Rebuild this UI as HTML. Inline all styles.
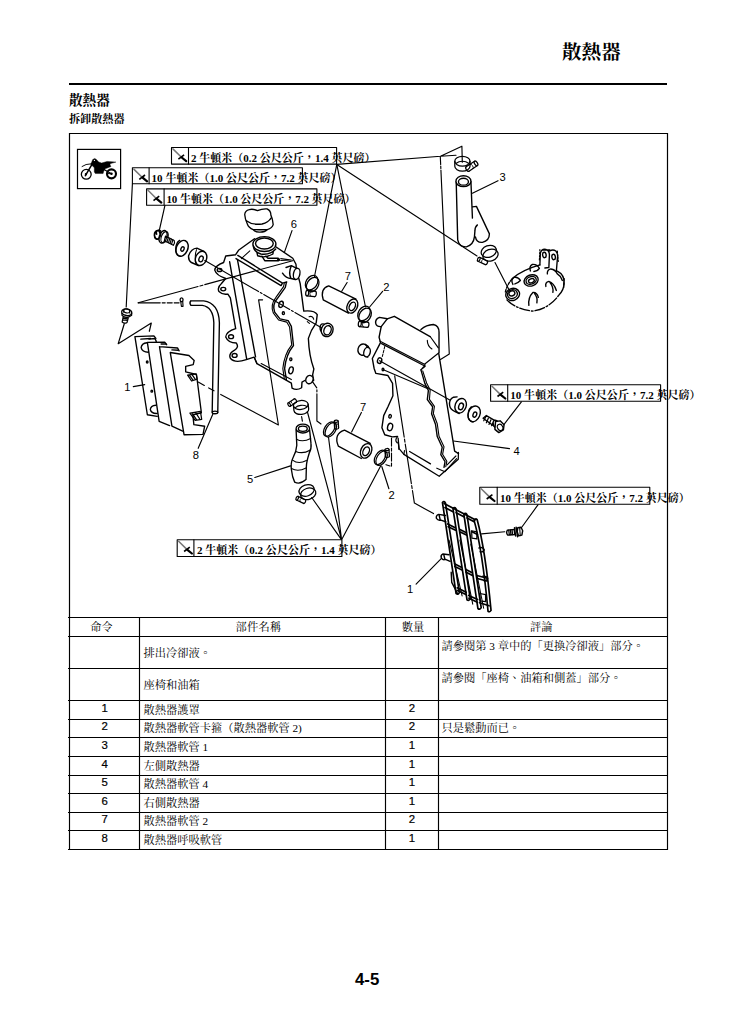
<!DOCTYPE html>
<html lang="zh-Hant">
<head>
<meta charset="utf-8">
<title>散熱器</title>
<style>
html,body{margin:0;padding:0;background:#fff;}
body{width:733px;height:1030px;position:relative;overflow:hidden;color:#000;
 font-family:"Liberation Serif","Noto Serif CJK SC",serif;}
.abs{position:absolute;white-space:nowrap;}
.hd{font-weight:700;font-size:19.6px;line-height:24px;left:562px;top:40.7px;}
.rule{left:69px;top:83px;width:598px;height:2px;background:#000;}
.h1{font-weight:700;font-size:13.6px;line-height:16px;left:69px;top:93.2px;}
.h2{font-weight:700;font-size:11.1px;line-height:14px;left:69px;top:112px;}
.pg{font-family:"Liberation Sans",sans-serif;font-weight:700;font-size:16.8px;line-height:18px;left:355px;top:971px;}
table{position:absolute;left:69.6px;top:617.35px;border-collapse:collapse;border-spacing:0;table-layout:fixed;width:597.9px;}
td{border:0;padding:0;box-sizing:border-box;font-size:11.25px;line-height:14px;vertical-align:top;overflow:hidden;white-space:nowrap;}
td.c{text-align:center;padding-top:2.6px;}
tr.r td{padding-top:2.4px;}
tr.r{height:18.6px;}
td.n{font-family:"Liberation Sans",sans-serif;font-size:11.4px;line-height:12px;text-align:center;-webkit-text-stroke:0.2px #000;}
tr.r td.n{padding-top:1.4px;}
td.l{padding-left:3.8px;}
td.k{padding-left:3px;padding-top:2.8px;}
svg{position:absolute;left:0;top:0;}
svg text{font-family:"Liberation Sans",sans-serif;font-size:11.2px;fill:#000;}
svg text.t{font-family:"Liberation Serif","Noto Serif CJK SC",serif;font-weight:700;font-size:11px;}
</style>
</head>
<body>
<div class="abs hd">散熱器</div>
<div class="abs rule"></div>
<div class="abs h1">散熱器</div>
<div class="abs h2">拆卸散熱器</div>

<table>
<colgroup><col style="width:70px"><col style="width:245.9px"><col style="width:53px"><col style="width:229px"></colgroup>
<tr style="height:19.05px"><td class="c" style="padding-right:6px">命令</td><td class="c" style="padding-right:8px;letter-spacing:0.3px">部件名稱</td><td class="c" style="padding-left:1.8px">數量</td><td class="c" style="padding-right:23.6px">評論</td></tr>
<tr style="height:32.05px"><td></td><td class="l" style="padding-top:9.6px">排出冷卻液。</td><td></td><td class="k">請參閱第 3 章中的「更換冷卻液」部分。</td></tr>
<tr style="height:32px"><td></td><td class="l" style="padding-top:9.8px">座椅和油箱</td><td></td><td class="k" style="padding-top:2.4px">請參閱「座椅、油箱和側蓋」部分。</td></tr>
<tr class="r"><td class="n">1</td><td class="l">散熱器護罩</td><td class="n">2</td><td class="l"></td></tr>
<tr class="r"><td class="n">2</td><td class="l">散熱器軟管卡箍（散熱器軟管 2)</td><td class="n">2</td><td class="l" style="padding-left:3px">只是鬆動而已。</td></tr>
<tr class="r"><td class="n">3</td><td class="l">散熱器軟管 1</td><td class="n">1</td><td class="l"></td></tr>
<tr class="r"><td class="n">4</td><td class="l">左側散熱器</td><td class="n">1</td><td class="l"></td></tr>
<tr class="r"><td class="n">5</td><td class="l">散熱器軟管 4</td><td class="n">1</td><td class="l"></td></tr>
<tr class="r"><td class="n">6</td><td class="l">右側散熱器</td><td class="n">1</td><td class="l"></td></tr>
<tr class="r"><td class="n">7</td><td class="l">散熱器軟管 2</td><td class="n">2</td><td class="l"></td></tr>
<tr class="r"><td class="n">8</td><td class="l">散熱器呼吸軟管</td><td class="n">1</td><td class="l"></td></tr>
</table>

<svg width="733" height="1030" viewBox="0 0 733 1030" fill="none" stroke="#000" stroke-width="1" stroke-linecap="round" stroke-linejoin="round">
<!-- frame -->
<path d="M69.5 617.5 V133.5 H667.5 V617.5" stroke-width="1.2" stroke-linejoin="miter" stroke-linecap="butt"/>
<!-- table grid -->
<g stroke-width="1.15" stroke-linecap="butt">
<path d="M68 617.5 H668 M68 636.5 H668 M68 668.5 H668 M68 700.5 H668 M68 719.5 H668 M68 737.5 H668 M68 756.5 H668 M68 775.5 H668 M68 793.5 H668 M68 812.5 H668 M68 830.5 H668 M68 849.5 H668"/>
<path d="M69.5 617.5 V850 M139.5 617.5 V850 M385.5 617.5 V850 M438.5 617.5 V850 M667.5 617.5 V850"/>
</g>
<!-- motorcycle icon -->
<rect x="77.5" y="149.4" width="43.1" height="39.2" stroke-width="1.2" stroke-linejoin="miter"/>
<g transform="translate(75,146) scale(0.06821)" stroke-width="14">
<circle cx="165" cy="415" r="72" stroke-width="19"/>
<circle cx="535" cy="408" r="66" stroke-width="31"/>
<circle cx="535" cy="408" r="18" fill="#000" stroke="none"/>
<path d="M535 408 L462 404" stroke-width="16"/>
<path d="M232 268 L260 198 L290 182 L314 198 L347 234 L390 250 L470 226 L600 236 L522 258 L512 275 L528 300 L472 324 L442 334 L422 366 L412 404 L298 404 L283 380 L283 320 L248 284 Z" fill="#000" stroke="#000" stroke-width="6"/>
<circle cx="285" cy="212" r="9" fill="#fff" stroke="none"/>
<path d="M258 255 L152 436" stroke-width="22"/>
<path d="M103 300 Q150 262 245 260" stroke-width="14"/>
<path d="M425 345 L535 408" stroke-width="18"/>
<circle cx="160" cy="414" r="17" fill="#000" stroke="none"/>
</g>
<!-- top-left bolt / washer / collar -->
<g transform="translate(148,218) scale(0.10914)" stroke-width="12.00">
<path d="M60 165 Q52 135 75 118 Q100 105 118 120 M60 165 Q66 190 92 196 M75 118 L80 150 M100 112 L108 140" />
<ellipse cx="88" cy="155" rx="27" ry="40" transform="rotate(18 88 155)" stroke-width="13.20"/>
<ellipse cx="138" cy="172" rx="34" ry="60" transform="rotate(20 138 172)" stroke-width="13.20"/>
<ellipse cx="152" cy="176" rx="30" ry="54" transform="rotate(20 152 176)" stroke-width="10.80"/>
<path d="M160 166 L240 206 Q250 228 232 250 L150 208 Z" fill="#fff" stroke-width="10.80"/>
<path d="M172 172 L160 212 M186 179 L174 219 M200 186 L188 226 M214 193 L202 233 M228 200 L216 240" stroke-width="10.80"/>
<ellipse cx="312" cy="278" rx="52" ry="76" transform="rotate(24 312 278)" stroke-width="13.20"/>
<path d="M290 205 Q250 230 255 300 Q262 345 300 352" stroke-width="12.00"/>
<ellipse cx="316" cy="284" rx="14" ry="21" transform="rotate(24 316 284)" stroke-width="12.00"/>
<ellipse cx="486" cy="370" rx="50" ry="68" transform="rotate(22 486 370)" stroke-width="13.20"/>
<path d="M512 306 L448 276 Q395 280 372 345 Q368 390 398 408 L462 436" stroke-width="13.20"/>
<ellipse cx="486" cy="375" rx="19" ry="27" transform="rotate(22 486 375)" stroke-width="12.00"/>
<path d="M445 290 Q425 340 440 420" stroke-width="9.60"/>
</g>
<!-- right radiator (6) -->
<g transform="translate(208,232) scale(0.17735)" stroke-width="7.82">
<!-- outer contour -->
<path d="M262 38 L172 103 L156 128 L100 135 L88 172 Q40 190 38 215 Q48 246 100 262 L76 290 Q50 312 62 336 Q82 356 112 350 L126 372 L156 545 Q104 560 100 592 Q114 626 160 626 Q176 650 150 666 Q114 686 126 712 Q150 742 216 720 L260 706 L276 742 L470 852 L474 880 Q500 896 528 878 L530 846 L548 836 Q572 858 596 836 L590 806 L597 772 Q570 700 566 600 Q580 552 610 512 L616 466 Q600 440 540 446 L520 292 L512 262" />
<path d="M380 82 L478 148 L496 182 L498 205" />
<!-- fitting on tank right -->
<path d="M440 200 L470 190 M420 232 Q440 262 468 262 M470 190 Q452 230 468 262 M470 190 L500 205 M468 262 L492 268" />
<ellipse cx="500" cy="236" rx="18" ry="32" transform="rotate(12 500 236)" fill="#fff"/>
<!-- filler neck -->
<path d="M256 78 Q256 112 298 124 Q350 132 382 96 M276 116 L280 134 Q322 150 366 124 L368 110"/>
<ellipse cx="318" cy="68" rx="65" ry="42" fill="#fff"/>
<ellipse cx="318" cy="65" rx="50" ry="31"/>
<path d="M304 136 L320 162 L396 162 M326 136 L338 148 L396 148" />
<circle cx="398" cy="156" r="9" fill="#000" stroke="none"/>
<path d="M410 160 L470 158 L410 150" stroke-width="5.75"/>
<!-- tank top edges -->
<path d="M168 132 L420 288 M158 150 L412 302 L420 288 L444 282" />
<path d="M188 150 L236 106" stroke-width="5.75"/>
<!-- body vertical lines -->
<path d="M122 168 L218 716 M166 156 L268 704" />
<path d="M276 742 L262 708 M300 742 L470 832" stroke-width="6.32"/>
<!-- ear holes -->
<ellipse cx="65" cy="214" rx="13" ry="9"/>
<ellipse cx="86" cy="322" rx="14" ry="10"/>
<ellipse cx="130" cy="590" rx="14" ry="11"/>
<ellipse cx="150" cy="696" rx="14" ry="11"/>
<!-- right bracket wavy -->
<path d="M442 284 L436 312 L392 374 Q360 410 376 452 L406 490 L452 500 L470 532 L482 640 Q440 690 432 770 L442 832" />
<path d="M430 290 L426 308 L382 370 Q350 412 368 456 L398 496 L444 508 L460 536 L472 636 Q430 688 422 770 L430 826" stroke-width="6.32"/>
<ellipse cx="412" cy="408" rx="12" ry="18" transform="rotate(15 412 408)"/>
<ellipse cx="425" cy="458" rx="6" ry="8"/>
<ellipse cx="467" cy="718" rx="6" ry="8"/>
<ellipse cx="468" cy="780" rx="12" ry="20" transform="rotate(15 468 780)"/>
<path d="M570 478 Q590 470 596 492 M560 505 L572 515" stroke-width="6.32"/>
<!-- bottom outlets -->
<ellipse cx="572" cy="832" rx="20" ry="24" transform="rotate(20 572 832)" fill="#fff"/>
<!-- grommet -->
<ellipse cx="648" cy="540" rx="16" ry="22"/>
<ellipse cx="672" cy="552" rx="33" ry="38" transform="rotate(20 672 552)" fill="#fff"/>
<ellipse cx="674" cy="554" rx="20" ry="27" transform="rotate(20 674 554)"/>
</g>
<!-- left radiator (4) -->
<g transform="translate(350,300) scale(0.17735)" stroke-width="7.82">
<path d="M210 106 L166 98 Q138 110 146 136 Q152 152 176 150"/>
<path d="M176 150 L210 106 L250 92 L452 206 M400 166 Q430 140 470 138 Q502 144 502 182 L502 296"/>
<path d="M176 150 L164 210 L172 240 L126 330 L136 386 L146 414 L214 426 L240 470 L242 540 L214 602 L190 652 L180 720 L196 760 L238 772 L268 770"/>
<path d="M170 232 L420 362 L498 300 M178 246 L424 374 L400 394 L424 366" stroke-width="6.44"/>
<path d="M452 206 L498 270 M436 228 Q436 258 462 276" stroke-width="6.44"/>
<path d="M196 262 L182 320" stroke-width="5.75" stroke-dasharray="14 8"/>
<ellipse cx="167" cy="342" rx="12" ry="16" transform="rotate(15 167 342)"/>
<ellipse cx="186" cy="392" rx="5" ry="7"/>
<ellipse cx="226" cy="656" rx="7" ry="10" transform="rotate(15 226 656)"/>
<ellipse cx="226" cy="716" rx="14" ry="21" transform="rotate(15 226 716)"/>

<path d="M400 394 L422 470 L442 510 L436 562 L466 602 L460 642 L482 700 L492 770 L520 830 L512 872 L536 912 L530 944"/>
<path d="M410 400 L432 468 L452 508 L448 560 L476 600 L470 640 L492 698 L502 768 L530 828 L522 870 L546 910 L540 940" stroke-width="6.21"/>
<path d="M500 300 L590 852 L612 866"/>
<path d="M268 770 Q250 790 266 806 M272 800 L276 842 M336 854 L454 924" stroke-width="6.67"/>
<!-- left grommet -->
<ellipse cx="72" cy="280" rx="27" ry="32" transform="rotate(15 72 280)"/>
<path d="M78 312 L100 322 M86 250 L104 262" />
<ellipse cx="96" cy="294" rx="18" ry="27" transform="rotate(15 96 294)" fill="#fff"/>
<!-- collar -->
<path d="M604 546 L584 548 Q556 562 562 596 Q566 618 590 628 L616 640"/>
<ellipse cx="624" cy="596" rx="31" ry="42" transform="rotate(20 624 596)" fill="#fff"/>
<ellipse cx="626" cy="600" rx="13" ry="19" transform="rotate(20 626 600)"/>
<!-- washer -->
<ellipse cx="700" cy="642" rx="33" ry="46" transform="rotate(22 700 642)"/>
<path d="M684 602 Q660 625 668 665 Q676 685 694 688" stroke-width="6.90"/>
<ellipse cx="704" cy="646" rx="10" ry="15" transform="rotate(22 704 646)"/>
</g>
<g stroke-width="1.26">
<path d="M398.1 438.1 L399.1 448.6 L403.9 454.4 L439.2 476.3 L458.3 459.2 L458.4 452.4"/>
<path d="M436.8 468.2 L445 471.7 L456.6 458.7 M447.1 464.8 L455.9 456" stroke-width="1.15"/>
<path d="M403.9 454.4 L404.5 450.5" stroke-width="1.15"/>
</g>
<!-- hose clamps -->
<g stroke-width="1.25"><g transform="rotate(0 462.4 161.3)"><ellipse cx="462.4" cy="161.3" rx="7.6" ry="4.9"/><path d="M454.79999999999995 161.3 v4.9 a7.6 4.9 0 0 0 15.2 0 v-4.9"/><path d="M456.32 163.26 A7.6 4.9 0 0 1 468.48 163.26" stroke-width="1.10"/></g><g transform="translate(467.6 169.0) rotate(-33.7)"><path d="M0 -2.6 H10.10 M0 2.6 H10.10" /><ellipse cx="10.10" cy="0" rx="1.43" ry="2.6" fill="#fff"/><path d="M0 -2.6 A1.43 2.6 0 0 0 0 2.6"/><path d="M4.54 -2.6 A1.43 2.6 0 0 1 4.54 2.6" stroke-width="0.80"/></g></g>
<g stroke-width="1.25"><ellipse cx="488.8" cy="251.4" rx="7.8" ry="5.8" transform="rotate(-20 488.8 251.4)"/><ellipse cx="490.5" cy="255.15" rx="7.8" ry="5.8" transform="rotate(-20 490.5 255.15)"/><g transform="translate(486.2 262.7) rotate(-155.3)"><path d="M0 -2.1 H8.14 M0 2.1 H8.14" /><ellipse cx="8.14" cy="0" rx="1.16" ry="2.1" fill="#fff"/><path d="M0 -2.1 A1.16 2.1 0 0 0 0 2.1"/><path d="M3.66 -2.1 A1.16 2.1 0 0 1 3.66 2.1" stroke-width="0.80"/></g></g>
<g stroke-width="1.25"><ellipse cx="311.6" cy="282.6" rx="5.6" ry="7.8" transform="rotate(32 311.6 282.6)"/><ellipse cx="312.70000000000005" cy="284.6" rx="5.6" ry="7.8" transform="rotate(32 312.70000000000005 284.6)"/><g transform="translate(314.8 293.9) rotate(-174.0)"><path d="M0 -2.7 H7.64 M0 2.7 H7.64" /><ellipse cx="7.64" cy="0" rx="1.49" ry="2.7" fill="#fff"/><path d="M0 -2.7 A1.49 2.7 0 0 0 0 2.7"/><path d="M3.44 -2.7 A1.49 2.7 0 0 1 3.44 2.7" stroke-width="0.80"/></g></g>
<g stroke-width="1.25"><ellipse cx="364.0" cy="313.4" rx="5.6" ry="7.8" transform="rotate(32 364.0 313.4)"/><ellipse cx="365.1" cy="315.4" rx="5.6" ry="7.8" transform="rotate(32 365.1 315.4)"/><g transform="translate(367.4 324.7) rotate(-174.0)"><path d="M0 -2.7 H7.64 M0 2.7 H7.64" /><ellipse cx="7.64" cy="0" rx="1.49" ry="2.7" fill="#fff"/><path d="M0 -2.7 A1.49 2.7 0 0 0 0 2.7"/><path d="M3.44 -2.7 A1.49 2.7 0 0 1 3.44 2.7" stroke-width="0.80"/></g></g>
<g stroke-width="1.25"><g transform="rotate(-6 300.8 405.0)"><ellipse cx="300.8" cy="405.0" rx="7.4" ry="4.5"/><path d="M293.40000000000003 405.0 v4.9 a7.4 4.5 0 0 0 14.8 0 v-4.9"/><path d="M294.88 407.20 A7.4 4.5 0 0 1 306.72 407.20" stroke-width="1.10"/></g><g transform="translate(295.2 400.6) rotate(146.3)"><path d="M0 -2.0 H7.21 M0 2.0 H7.21" /><ellipse cx="7.21" cy="0" rx="1.10" ry="2.0" fill="#fff"/><path d="M0 -2.0 A1.10 2.0 0 0 0 0 2.0"/><path d="M3.24 -2.0 A1.10 2.0 0 0 1 3.24 2.0" stroke-width="0.80"/></g></g>
<g stroke-width="1.25"><ellipse cx="329.2" cy="429.0" rx="4.6" ry="8.0" transform="rotate(32 329.2 429.0)"/><ellipse cx="330.8" cy="429.8" rx="4.6" ry="8.0" transform="rotate(32 330.8 429.8)"/><g transform="translate(336.6 428.0) rotate(-93.4)"><path d="M0 -2.0 H6.81 M0 2.0 H6.81" /><ellipse cx="6.81" cy="0" rx="1.10" ry="2.0" fill="#fff"/><path d="M0 -2.0 A1.10 2.0 0 0 0 0 2.0"/><path d="M3.07 -2.0 A1.10 2.0 0 0 1 3.07 2.0" stroke-width="0.80"/></g></g>
<g stroke-width="1.25"><ellipse cx="380.0" cy="457.4" rx="4.6" ry="8.0" transform="rotate(32 380.0 457.4)"/><ellipse cx="381.6" cy="458.2" rx="4.6" ry="8.0" transform="rotate(32 381.6 458.2)"/><g transform="translate(387.4 456.4) rotate(-93.4)"><path d="M0 -2.0 H6.81 M0 2.0 H6.81" /><ellipse cx="6.81" cy="0" rx="1.10" ry="2.0" fill="#fff"/><path d="M0 -2.0 A1.10 2.0 0 0 0 0 2.0"/><path d="M3.07 -2.0 A1.10 2.0 0 0 1 3.07 2.0" stroke-width="0.80"/></g></g>
<g stroke-width="1.25"><ellipse cx="306.6" cy="490.4" rx="7.8" ry="5.6" transform="rotate(-18 306.6 490.4)"/><ellipse cx="308.20000000000005" cy="493.79999999999995" rx="7.8" ry="5.6" transform="rotate(-18 308.20000000000005 493.79999999999995)"/><g transform="translate(304.4 501.6) rotate(-154.7)"><path d="M0 -2.0 H7.96 M0 2.0 H7.96" /><ellipse cx="7.96" cy="0" rx="1.10" ry="2.0" fill="#fff"/><path d="M0 -2.0 A1.10 2.0 0 0 0 0 2.0"/><path d="M3.58 -2.0 A1.10 2.0 0 0 1 3.58 2.0" stroke-width="0.80"/></g></g>
<!-- pipes 7 -->
<g transform="translate(298,262) scale(0.13643)" stroke-width="9.89">
<path d="M225 175 L425 272 M185 277 L370 375 M225 175 Q160 195 185 277"/>
<ellipse cx="398" cy="323" rx="37" ry="54" transform="rotate(25 398 323)" fill="#fff"/>
<ellipse cx="398" cy="325" rx="21" ry="33" transform="rotate(25 398 325)"/>
</g>
<g transform="translate(278,392) scale(0.17735)" stroke-width="7.59">
<path d="M375 215 L520 290 M340 305 L470 375 M375 215 Q312 235 340 305"/>
<ellipse cx="497" cy="332" rx="30" ry="43" transform="rotate(25 497 332)" fill="#fff"/>
<ellipse cx="497" cy="334" rx="17" ry="26" transform="rotate(25 497 334)"/>
<!-- hose 5 -->
<path d="M102 212 L106 300 Q104 335 84 372 Q70 400 76 440 Q80 480 94 508 Q124 524 158 494 L160 420 Q160 395 176 345 Q190 320 186 290 L178 212" fill="#fff"/>
<ellipse cx="140" cy="206" rx="38" ry="25" fill="#fff"/>
<ellipse cx="140" cy="207" rx="25" ry="15"/>
<path d="M104 266 Q140 286 184 262 M100 335 Q140 352 180 328 M82 384 Q116 410 160 386 M76 432 Q114 452 158 428" stroke-width="6.44"/>
</g>
<!-- left guard (1), hose 8, bolt -->
<g transform="translate(112,290) scale(0.16371)" stroke-width="8.28">
<!-- bolt -->
<ellipse cx="90" cy="136" rx="31" ry="20" transform="rotate(10 90 136)"/>
<path d="M60 142 L62 156 Q88 178 120 154 L120 140 M68 164 L62 196 Q76 208 92 198 L100 168 M66 182 L94 186 M68 172 L96 176" stroke-width="7.47"/>
<ellipse cx="90" cy="128" rx="19" ry="12" transform="rotate(10 90 128)" stroke-width="6.90"/><path d="M72 126 L72 136 M108 130 L108 140" stroke-width="6.90"/>
<!-- V indicator -->
<path d="M75 206 L38 328 L240 202 L228 252" stroke-width="7.47"/>
<!-- small clip -->
<ellipse cx="425" cy="60" rx="9" ry="12"/>
<path d="M420 72 L424 100 L434 100 L432 70" stroke-width="6.90"/>
<!-- hose 8 -->
<path d="M482 66 L560 66 Q652 78 656 200 L646 748 M482 94 L552 94 Q618 104 622 200 L612 746 M482 66 Q470 80 482 94"/>
<ellipse cx="629" cy="748" rx="17" ry="8"/>
<!-- guard back plate -->
<path d="M140 285 L256 280 L268 296 M140 285 L216 762 L276 772 M176 300 L236 296"/>
<!-- slat 1 -->
<path d="M216 320 L322 318 L334 334 M216 320 L288 802 L352 828 M226 300 L262 296 L270 312"/>
<!-- slat 2 -->
<path d="M290 346 L400 354 L410 372 M290 346 L366 832 L432 862 M300 330 L330 330"/>
<!-- slat 3 -->
<path d="M356 382 L470 400 M356 382 L440 884 L556 882 L566 832 L500 822 L494 762 L546 750 L516 516 L450 500 L450 466 L496 456 L502 430 L470 400 M366 366 L404 368"/>
<!-- clips -->
<path d="M462 520 L514 512 L520 545 L486 556 Z M476 752 L540 742 L548 790 L508 796 Z M474 522 L496 552 M490 518 L510 548 M490 754 L516 792 M510 748 L536 788" stroke-width="7.47"/>

<!-- holes -->
<path d="M214 322 Q180 326 178 352 Q184 380 222 380" />
<path d="M268 704 Q236 706 234 730 Q240 756 276 754" />
<ellipse cx="215" cy="440" rx="5" ry="6"/>
<ellipse cx="243" cy="618" rx="5" ry="6"/>
</g>
<!-- right guard (1) + bolt -->
<g transform="translate(425,495) scale(0.13643)" stroke-width="12.35">
<!-- slats -->
<path d="M128 55 L228 722 M150 60 L252 716 M128 55 Q140 40 150 60 M228 722 Q242 735 252 716"/>
<path d="M205 100 L308 768 M227 100 L332 760 M205 100 Q216 84 227 100 M308 768 Q322 780 332 760"/>
<path d="M285 142 L388 832 M307 142 L412 826 M285 142 Q296 126 307 142 M388 832 Q402 844 412 826"/>
<path d="M360 186 Q420 400 462 852 M382 180 Q442 400 484 846 M360 186 Q370 168 382 180 M462 852 Q474 862 484 846"/>
<path d="M176 330 L272 740" stroke-width="7.80"/>
<path d="M256 330 L350 800 M336 360 L430 830" stroke-width="7.80"/>
<!-- top edge -->
<path d="M140 62 L368 182 M146 92 L205 122 M228 130 L285 160 M308 168 L360 196"/>
<!-- cross bars -->
<path d="M166 212 L222 240 M170 232 L224 258 M256 252 L300 275 M258 272 L304 294 M342 268 L384 290"/>
<path d="M216 504 L266 530 M218 524 L268 548 M300 546 L346 570 M302 566 L348 590 M380 590 L456 610 M384 612 L452 630"/>
<path d="M236 680 L302 712 M238 700 L300 730 M320 736 L386 766 M322 756 L384 786 M400 790 L470 812"/>
<!-- mounts -->
<path d="M150 150 L100 142 Q78 150 84 172 Q96 190 116 184 L152 196 M104 150 L112 184" stroke-width="10.40"/>
<path d="M176 438 L132 432 Q112 442 120 462 Q132 480 150 472 L184 486 M138 438 L146 472" stroke-width="10.40"/>
<path d="M192 566 L196 640 L240 726" stroke-width="10.40"/>
<path d="M396 388 Q426 378 434 402 Q430 420 404 416 M424 596 Q452 590 460 610 Q456 630 432 628" stroke-width="10.40"/>
<path d="M342 262 L380 270 L380 322 L344 316 Z M402 722 L444 730 L444 782 L404 776 Z" stroke-width="9.10"/>
<!-- bolt -->
<path d="M604 258 L654 252 L658 290 L606 294 Q592 278 604 258 Z" fill="#fff" stroke-width="10.40"/>
<path d="M614 258 L618 292 M626 256 L630 292 M638 255 L642 291" stroke-width="9.10"/>
<path d="M656 240 L664 300 M668 236 L678 306" stroke-width="10.40"/>
<path d="M680 240 L704 236 L716 262 L710 294 L686 300 L676 270 Z" fill="#fff" stroke-width="10.40"/>
<path d="M694 240 L698 298" stroke-width="7.80"/>
</g>
<!-- hose 3 -->
<g transform="translate(417,132) scale(0.24969)" stroke-width="5.52">
<path d="M157 198 L163 432 Q170 462 198 460 Q226 452 230 420 L232 396 Q232 380 242 372"/>
<path d="M216 198 L222 345 M222 300 L238 298 L290 408 Q290 436 262 442 Q238 444 234 420"/>
<ellipse cx="186" cy="197" rx="30" ry="22" fill="#fff"/>
<ellipse cx="186" cy="199" rx="20" ry="14"/>
</g>
<!-- cylinder head -->
<g transform="translate(440,225) scale(0.24969)" stroke-width="5.52">
<path d="M290 214 Q330 180 400 160 M470 185 Q500 200 497 235 Q495 262 478 278" />
<path d="M268 300 Q300 335 370 345 Q440 335 480 275" stroke-dasharray="40 8 6 8"/>
<path d="M262 268 Q268 240 290 214" stroke-dasharray="10 6"/>
<path d="M497 215 L495 250" stroke-dasharray="10 6"/>
<!-- bracket tabs -->
<path d="M400 160 L402 112 Q408 94 424 98 Q440 104 438 124 L436 170 M440 104 Q452 96 464 104 Q474 116 470 136 L466 185 M412 100 L440 100 M420 172 L436 170" />
<ellipse cx="418" cy="120" rx="7" ry="11" transform="rotate(-8 418 120)"/>
<ellipse cx="455" cy="128" rx="7" ry="11" transform="rotate(-8 455 128)"/>
<path d="M400 98 L398 140 M470 104 L474 150" stroke-dasharray="6 6" stroke-width="4.60"/>
<!-- ports -->
<ellipse cx="365" cy="222" rx="29" ry="22" transform="rotate(-20 365 222)"/>
<ellipse cx="365" cy="222" rx="21" ry="15" transform="rotate(-20 365 222)"/>
<ellipse cx="366" cy="223" rx="12" ry="8" transform="rotate(-20 366 223)"/>
<ellipse cx="291" cy="278" rx="28" ry="24" transform="rotate(-20 291 278)"/>
<ellipse cx="290" cy="277" rx="20" ry="17" transform="rotate(-20 290 277)"/>
<ellipse cx="288" cy="274" rx="12" ry="10" transform="rotate(-20 288 274)"/>
<!-- fins -->
<path d="M292 238 Q282 220 296 210 Q312 206 322 222 Q312 232 300 236" />
<path d="M362 184 Q356 166 370 158 Q388 156 398 174 Q390 186 376 186" />
<path d="M430 196 Q428 180 444 176 Q462 178 470 196 Q484 204 490 222" />
<path d="M356 322 Q352 290 372 270 Q388 268 394 290 M378 274 Q392 290 388 312" />
<path d="M424 246 Q420 230 436 226 Q456 232 466 262 M440 230 Q456 250 452 270" />
</g>
<!-- cap -->
<g transform="translate(210,205) scale(0.16371)" stroke-width="8.05">
<path d="M212 58 Q214 34 240 28 Q262 22 290 34 Q320 22 348 24 Q372 34 372 62 Q384 88 386 120 Q380 142 350 150 Q336 166 306 166 Q278 168 264 150 Q236 140 228 116 Q214 86 212 58 Z" fill="#fff"/>
<path d="M222 96 Q258 124 318 116 Q356 106 374 78 M264 150 Q300 152 350 150"/>
</g>
<!-- right bolt near C4 -->
<g transform="translate(470,375) scale(0.3274)" stroke-width="4.37">
<path d="M40 132 L50 124 L84 144 L76 158 Z" fill="#fff"/>
<path d="M48 128 L42 140 M56 132 L50 146 M64 137 L58 151 M72 142 L66 155" stroke-width="3.68"/>
<ellipse cx="82" cy="153" rx="9" ry="16" transform="rotate(-28 82 153)" fill="#fff"/>
<path d="M78 142 L92 140 L104 152 L102 168 L88 176 L76 166 Z" fill="#fff"/>
<ellipse cx="92" cy="160" rx="8" ry="10" transform="rotate(-28 92 160)" stroke-width="3.45"/>
</g>
<!-- leader / axis lines -->
<g stroke-width="1.15">
<path d="M336.8 164.4 L440.5 156.3 L461.9 146.2 L462.3 162.2 M440.5 156.3 L456 155.3"/>
<path d="M440.3 156.5 L449.3 354.1 L440.5 359.4" stroke-dasharray="8 1.5 2.5 1.5 300"/>
<path d="M336.8 164.4 L477 256"/>
<path d="M336.8 164.4 L314.4 277"/>
<path d="M336.8 164.4 L365.5 307"/>
<path d="M132.4 183.8 L126.2 307"/>
<path d="M165 205.2 L159.4 230"/>
<path d="M292 230.6 L284.4 252.4"/>
<path d="M498 180.7 L472.4 193.2"/>
<path d="M347.1 282.5 L341.7 291.3"/>
<path d="M382.6 291.3 L369.6 307"/>
<path d="M495 262.5 L509.4 290.4"/>
<path d="M204.8 260.6 L321.5 327.8" stroke-dasharray="62 2 2 2 30 2 2 2 200"/>
<path d="M138.2 302.8 L292.7 260.7" stroke-dasharray="62 2 3 2 200"/>
<path d="M138.2 302.8 L179.1 302.8" stroke-dasharray="22 2 3 2 5 2 20"/>
<path d="M262.6 299.8 L258.6 299.8 L278.4 425 L220.7 394.4"/>
<path d="M198.2 382.1 L214 390.8" stroke-dasharray="7 5"/>
<path d="M312.8 382.1 L316.9 388 L316.9 421 L321 424" stroke-dasharray="7 2 2 2 200"/>
<path d="M301.6 416.6 L302.4 421.2"/>
<path d="M254.8 477.5 L290.5 465.9"/>
<path d="M213 413.8 L198.2 448.3"/>
<path d="M133.3 386.6 L144.7 384.6"/>
<path d="M416.1 584.2 L441.7 558.2"/>
<path d="M341.6 539.8 L311.7 497.5 M341.6 539.8 L307.3 411.5 M341.6 539.8 L328.5 437.2 M341.6 539.8 L380.9 465.6"/>
<path d="M388.9 488.7 L381.8 466.5"/>
<path d="M361.4 412.4 L351.6 431.9"/>
<path d="M521.4 401.8 L503.7 424.8"/>
<path d="M538.1 504.7 L521.2 528"/>
<path d="M481.6 533.9 L504.8 531.8"/>
<path d="M453.5 441 L509.5 448.6"/>
<path d="M379.6 360.7 L450.2 400.2"/>
<path d="M383.4 369.8 L428 388.8"/>
<path d="M394.7 375.9 L414.4 503.1 L433.5 513.6" stroke-dasharray="62 2 3 2 40 2 3 2 200"/>
<path d="M391.5 438.1 L391.5 466.5 L386 464.7" stroke-dasharray="8 2 3 2 8 2 3 2 30"/>
</g>
<!-- part number labels -->
<g stroke="none" fill="#000" text-anchor="middle">
<text x="293.9" y="227.9">6</text>
<text x="502.6" y="180.9">3</text>
<text x="347.8" y="280.2">7</text>
<text x="386.4" y="290.5">2</text>
<text x="127.4" y="390.5">1</text>
<text x="195.9" y="459.1">8</text>
<text x="250.2" y="483.1">5</text>
<text x="363.1" y="411.0">7</text>
<text x="391.5" y="498.8">2</text>
<text x="516.5" y="454.9">4</text>
<text x="410.2" y="593.0">1</text>
</g>
<!-- torque callouts -->
<g><rect x="171.5" y="147.5" width="165.1" height="16.6" fill="#fff" stroke-width="1.1"/><path d="M188.5 147.5 V164.1" stroke-width="1.1"/><path d="M172.9 148.9 L180.9 156.8" stroke="#777" stroke-width="1.5"/><path d="M178.4 159.2 L184.1 154.8" stroke-width="1.6" stroke-linecap="butt"/><path d="M181.7 157.5 L186.2 161.2" stroke-width="2.2"/><text class="t" x="190.9" y="161.8" textLength="184.6" lengthAdjust="spacing" stroke="none">2 牛頓米（0.2 公尺公斤，1.4 英尺磅）</text></g>
<g><rect x="132.4" y="167.7" width="170.0" height="16.1" fill="#fff" stroke-width="1.1"/><path d="M149.1 167.7 V183.8" stroke-width="1.1"/><path d="M133.8 169.1 L141.8 177.0" stroke="#777" stroke-width="1.5"/><path d="M139.3 179.4 L145.0 175.0" stroke-width="1.6" stroke-linecap="butt"/><path d="M142.6 177.7 L147.1 181.4" stroke-width="2.2"/><text class="t" x="151.6" y="181.6" textLength="190.0" lengthAdjust="spacing" stroke="none">10 牛頓米（1.0 公尺公斤，7.2 英尺磅）</text></g>
<g><rect x="146.6" y="188.9" width="170.3" height="16.3" fill="#fff" stroke-width="1.1"/><path d="M164.1 188.9 V205.2" stroke-width="1.1"/><path d="M148.0 190.3 L156.0 198.2" stroke="#777" stroke-width="1.5"/><path d="M153.5 200.6 L159.2 196.2" stroke-width="1.6" stroke-linecap="butt"/><path d="M156.8 198.9 L161.3 202.6" stroke-width="2.2"/><text class="t" x="166.4" y="202.9" textLength="189.1" lengthAdjust="spacing" stroke="none">10 牛頓米（1.0 公尺公斤，7.2 英尺磅）</text></g>
<g><rect x="490.6" y="384.8" width="170.0" height="16.5" fill="#fff" stroke-width="1.1"/><path d="M507.7 384.8 V401.3" stroke-width="1.1"/><path d="M492.0 386.2 L500.0 394.1" stroke="#777" stroke-width="1.5"/><path d="M497.5 396.5 L503.2 392.1" stroke-width="1.6" stroke-linecap="butt"/><path d="M500.8 394.8 L505.3 398.5" stroke-width="2.2"/><text class="t" x="510.3" y="399.0" textLength="190.3" lengthAdjust="spacing" stroke="none">10 牛頓米（1.0 公尺公斤，7.2 英尺磅）</text></g>
<g><rect x="479.8" y="487.3" width="170.0" height="17.0" fill="#fff" stroke-width="1.1"/><path d="M497.2 487.3 V504.3" stroke-width="1.1"/><path d="M481.2 488.7 L489.2 496.6" stroke="#777" stroke-width="1.5"/><path d="M486.7 499.0 L492.4 494.6" stroke-width="1.6" stroke-linecap="butt"/><path d="M490.0 497.3 L494.5 501.0" stroke-width="2.2"/><text class="t" x="500.1" y="502.0" textLength="189.6" lengthAdjust="spacing" stroke="none">10 牛頓米（1.0 公尺公斤，7.2 英尺磅）</text></g>
<g><rect x="177.2" y="539.8" width="164.7" height="16.7" fill="#fff" stroke-width="1.1"/><path d="M193.9 539.8 V556.5" stroke-width="1.1"/><path d="M178.6 541.2 L186.6 549.1" stroke="#777" stroke-width="1.5"/><path d="M184.1 551.5 L189.8 547.1" stroke-width="1.6" stroke-linecap="butt"/><path d="M187.4 549.8 L191.9 553.5" stroke-width="2.2"/><text class="t" x="196.9" y="554.1" textLength="184.7" lengthAdjust="spacing" stroke="none">2 牛頓米（0.2 公尺公斤，1.4 英尺磅）</text></g>

</svg>

<div class="abs pg">4-5</div>
</body>
</html>
